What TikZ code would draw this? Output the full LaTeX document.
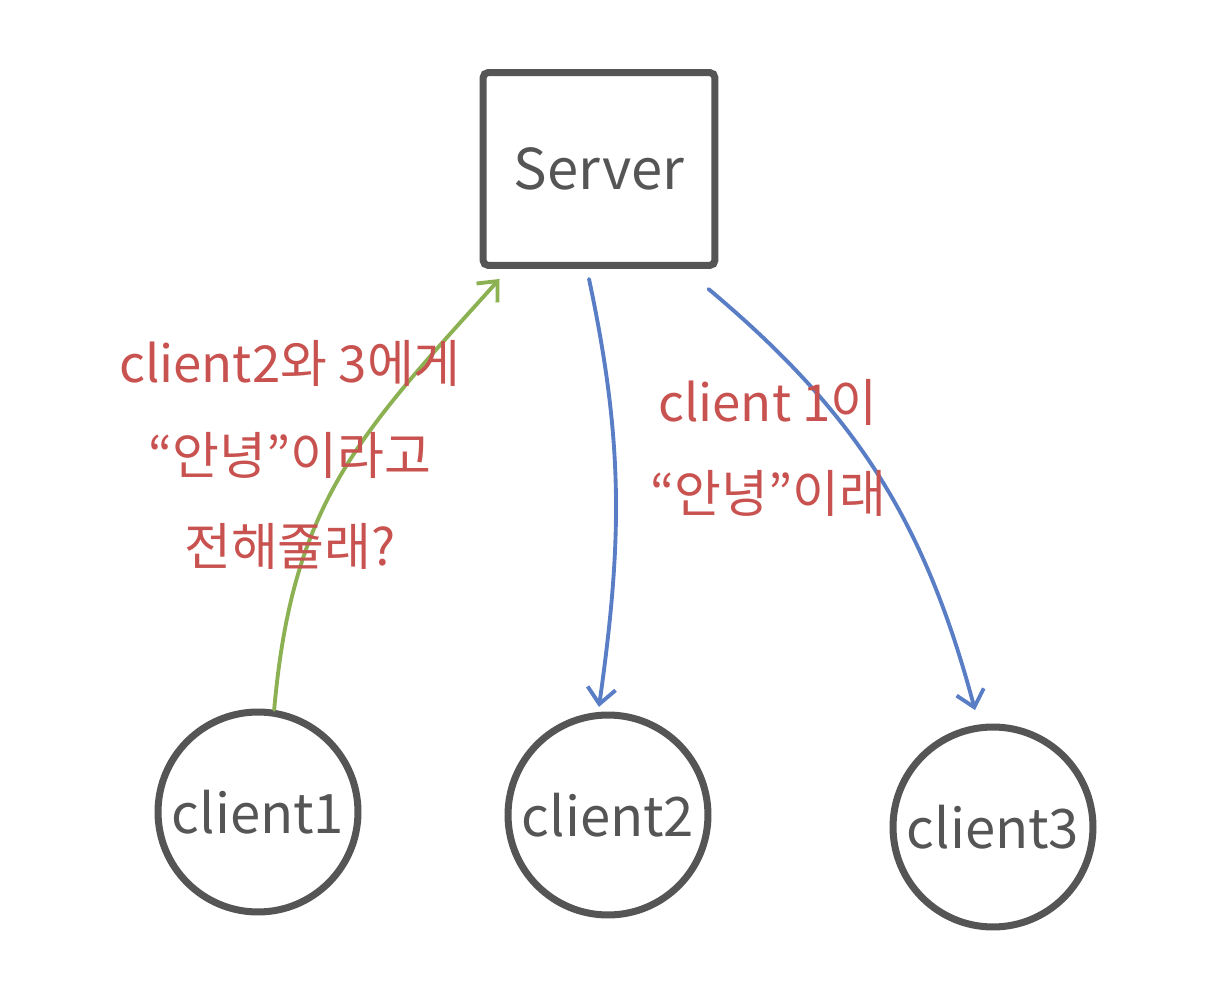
\documentclass[tikz,border=0pt]{standalone}
\usepackage{fontspec}
\setmainfont{Noto Sans CJK KR}
\usetikzlibrary{arrows.meta}
\definecolor{inkgray}{HTML}{555555}
\definecolor{inkred}{HTML}{C8524F}
\definecolor{inkgreen}{HTML}{8CB153}
\definecolor{inkblue}{HTML}{5A7EC6}
\tikzset{
  serverbox/.style={draw=inkgray, line width=4pt, rounded corners=3pt, minimum width=4.64cm, minimum height=3.86cm, text=inkgray, font=\fontsize{32}{36}\selectfont},
  clientnode/.style={draw=inkgray, circle, line width=4pt, minimum size=4cm, text=inkgray, font=\fontsize{31}{36}\selectfont},
  msg/.style={text=inkred, font=\fontsize{29}{52}\selectfont, align=center},
  wire/.style={line width=2.2pt, line cap=round, -{Straight Barb[length=9pt,width=16pt,line width=2.2pt]}}
}
\begin{document}
\begin{tikzpicture}[x=0.02cm, y=-0.02cm]
\useasboundingbox (0,0) rectangle (1205,1000);

\node[serverbox] (srv) at (599,169) {Server};
\node[clientnode] (c1) at (258,812) {client1};
\node[clientnode] (c2) at (608,815) {client2};
\node[clientnode] (c3) at (993,827) {client3};

% messages
\draw[wire, inkgreen] (c1.81) to[out=85, in=228, looseness=1.1] ([xshift=0.4cm, yshift=-0.2cm]srv.south west);
\draw[wire, inkblue] ([xshift=-0.2cm, yshift=-0.2cm]srv.south) to[out=-78, in=82] ([yshift=0.1cm]c2.95);
\draw[wire, inkblue] ([xshift=-0.2cm, yshift=-0.4cm]srv.south east) to[out=-40, in=105] ([yshift=0.3cm]c3.100);

\node[msg] (ask) at (290,455) {client2와 3에게\\“안녕”이라고\\전해줄래?};
\node[msg] (say) at (768,448) {client 1이\\“안녕”이래};
\end{tikzpicture}
\end{document}
